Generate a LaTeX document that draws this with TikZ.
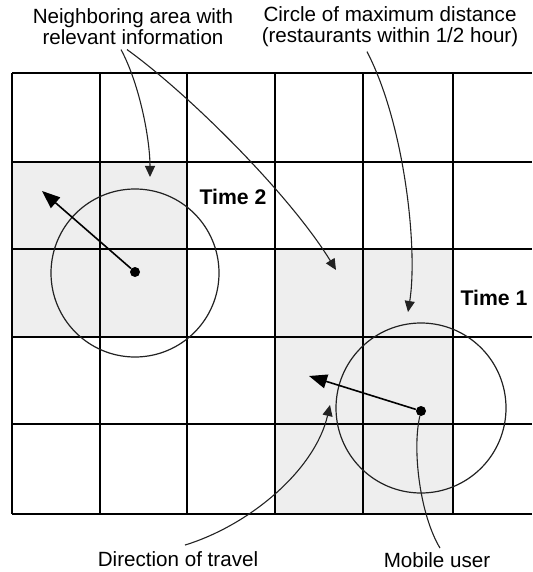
\documentclass[tikz,border=0pt]{standalone}
\usepackage{fontspec}
\setmainfont{Liberation Sans}
\usetikzlibrary{arrows.meta}
\definecolor{cellgray}{HTML}{EEEEEE}
\definecolor{ink}{HTML}{222222}
\tikzset{
  gridline/.style={line width=1.2pt, black},
  ring/.style={line width=0.6pt, ink},
  pointer/.style={line width=0.55pt, ink, -{Triangle[length=5.5pt,width=5pt]}},
  travel/.style={line width=0.8pt, black, -{Triangle[length=9pt,width=7pt]}},
  lbl/.style={inner sep=0pt, align=center, font=\fontsize{10.3}{10.6}\selectfont},
  timelbl/.style={inner sep=0pt, font=\fontsize{10.6}{11}\selectfont\bfseries},
  userdot/.style={circle, fill=black, inner sep=0pt, minimum size=5pt}
}
\begin{document}
\begin{tikzpicture}[x=0.5pt,y=-0.5pt]
\useasboundingbox (0,0) rectangle (532,572);
% shaded cells
\fill[cellgray] (12,162) rectangle (187,337);
\fill[cellgray] (275,249) rectangle (453,514);
% grid
\foreach \y in {73,162,249,337,424,514} \draw[gridline] (12,\y) -- (532,\y);
\foreach \x in {12,100,187,275,363,453} \draw[gridline] (\x,73) -- (\x,514);
% circles
\draw[ring] (135,273) circle[radius=84];
\draw[ring] (421,408) circle[radius=85];
% users
\node[userdot] (u2) at (135,272) {};
\node[userdot] (u1) at (421,411) {};
\coordinate (t2) at (42,191);
\coordinate (t1) at (309,376);
\draw[travel] (u2) -- (t2);
\draw[travel] (u1) -- (t1);
% labels
\node[lbl] (nbr) at (133,27) {Neighboring area with\\relevant information};
\node[lbl] (circ) at (390,27) {Circle of maximum distance\\(restaurants within 1/2 hour)};
\node[timelbl] (time2) at (233,197) {Time 2};
\node[timelbl] (time1) at (494,298) {Time 1};
\node[lbl] (dir) at (178,559) {Direction of travel};
\node[lbl] (mob) at (437,560) {Mobile user};
% pointer targets
\coordinate (a1) at (150,177);
\coordinate (a2) at (336,270);
\coordinate (a3) at (408,312);
\coordinate (a4) at (330,405);
% pointers
\draw[pointer] ([xshift=-6pt,yshift=-2pt]nbr.south) .. controls (140,85) and (150,140) .. (a1);
\draw[pointer] ([xshift=-3pt,yshift=-2pt]nbr.south) .. controls (190,95) and (290,195) .. (a2);
\draw[pointer] ([xshift=-11.5pt,yshift=-2pt]circ.south) .. controls (405,125) and (418,250) .. (a3);
\draw[pointer] ([xshift=3.5pt,yshift=3pt]dir.north) .. controls (250,525) and (315,470) .. (a4);
\draw[line width=0.55pt, ink] ([xshift=1.5pt,yshift=2pt]mob.north) .. controls (420,515) and (412,450) .. (u1);
\end{tikzpicture}
\end{document}
